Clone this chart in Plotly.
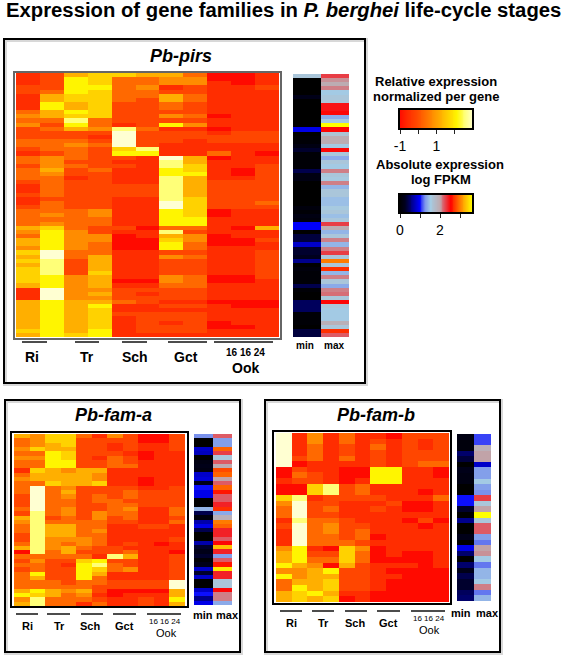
import numpy as np
import plotly.graph_objects as go

W, H = 565, 659

# Relative expression, as shade levels 0 (red, -1) to 9 (pale yellow, 3)
pirs_rows = [
[1,2,5,6,6,5,5,3,0,0,1],[1,2,7,6,3,3,4,4,0,0,1],[1,2,7,6,3,3,4,4,1,0,1],[2,2,7,7,3,4,1,2,1,1,2],
[2,3,7,6,3,3,2,2,1,1,1],[1,5,6,6,3,3,5,3,1,1,1],[1,5,6,6,3,2,5,3,1,1,1],[1,7,5,6,2,2,3,2,1,1,1],
[1,7,5,6,2,2,3,2,1,1,1],[3,5,7,6,2,2,2,2,1,1,1],[4,5,6,6,2,2,4,3,0,1,1],[3,3,8,3,2,2,2,2,1,1,1],
[4,2,7,3,1,2,7,4,1,1,1],[2,3,5,4,8,3,1,1,0,1,1],[2,2,2,2,9,2,2,2,1,2,2],[2,2,2,1,9,2,2,2,2,2,2],
[3,3,3,2,9,2,2,1,2,2,2],[3,3,4,3,9,2,1,1,1,1,1],[2,3,3,2,6,8,1,1,1,1,1],[1,2,3,2,7,7,1,1,3,1,0],
[3,4,3,2,2,1,9,5,0,1,1],[3,4,2,2,1,1,8,5,1,1,1],[2,4,3,2,2,1,8,6,1,1,2],[3,5,2,3,1,1,7,6,1,0,2],
[3,4,2,2,1,1,7,7,1,0,2],[3,3,1,2,1,1,8,5,1,1,2],[2,3,2,2,1,1,8,5,2,2,2],[1,3,2,2,2,2,8,5,2,2,2],
[1,3,2,2,2,2,8,5,2,2,2],[2,3,2,2,2,2,8,5,2,2,2],[1,2,2,2,1,1,8,6,2,2,2],[1,3,2,2,1,1,9,6,2,2,3],
[2,3,2,2,1,1,9,6,2,2,2],[3,3,3,4,1,1,7,6,0,1,1],[3,4,3,4,1,1,7,6,0,1,1],[3,3,3,3,1,1,7,7,1,1,1],
[3,4,3,3,1,1,7,7,1,1,1],[5,6,3,2,2,0,3,3,1,0,5],[4,7,4,2,1,1,8,2,1,1,1],[3,7,4,4,0,1,5,4,0,1,1],
[5,7,4,4,0,0,6,4,0,0,2],[5,7,4,3,0,0,7,3,0,0,1],[4,7,4,3,0,0,7,3,1,1,1],[6,9,3,3,1,1,2,2,1,1,2],
[5,9,3,5,1,1,4,3,1,1,2],[6,8,2,5,1,1,2,2,1,1,2],[5,8,2,5,1,1,2,2,1,1,2],[6,8,2,5,1,1,2,2,1,1,2],
[6,8,2,6,1,1,2,2,1,1,2],[6,7,4,5,1,1,4,3,0,0,2],[6,7,4,5,0,0,4,3,0,0,1],[5,7,4,5,1,1,3,3,1,1,1],
[1,9,4,4,2,2,2,2,1,1,1],[1,9,4,5,2,1,2,2,1,1,1],[1,9,4,4,2,2,2,2,1,1,1],[5,7,5,5,3,2,1,1,0,0,0],
[5,7,5,7,1,1,2,2,1,0,0],[5,7,5,6,1,1,1,1,1,1,1],[5,7,5,6,2,2,2,2,1,1,1],[5,7,5,6,1,2,2,2,1,1,1],
[5,7,5,6,1,2,1,2,0,1,1],[5,7,5,6,1,2,2,2,0,0,1],[6,7,5,7,1,2,2,2,1,1,1],[5,7,6,7,1,1,1,1,1,1,1],
]
pirs_min = [1.6,0,0,0,0,0.2,0,0,0,0,0,0,0,0.9,0,0.05,0.05,0.15,0.3,0.05,0.05,0.05,0.05,0.4,0.15,0.15,0,0,0,0,0,0,
            0.1,0.05,0.15,0.1,0.95,0.95,0,0.35,0.35,0.8,0.3,0.3,0.25,0.6,0,0.1,0.05,0.05,0.05,0.4,0.05,0,0,0.45,0.45,0.45,0.05,0.05,0.05,0,0.35,0.35]
pirs_max = [2.3,2.05,1.95,2.1,1.5,1.6,1.6,2.45,2.45,2.5,1.35,1.5,3.6,2.5,1.65,1.95,1.95,1.5,2.5,1.6,1.35,1.6,1.5,2.1,1.6,1.55,2.1,1.4,1.6,1.6,1.45,1.45,
            1.55,1.6,1.45,1.6,2.3,1.95,1.4,1.6,2.1,1.4,2.1,2.3,1.6,3.0,1.6,2.7,1.4,2.1,1.6,1.35,2.1,2.15,1.6,2.5,1.6,1.5,1.5,1.5,1.9,1.6,2.7,2.2]

fam_a_rows = [
[5,4,6,6,3,1,4,2,0,0,2],[3,4,6,6,2,2,2,2,0,0,2],[3,4,5,6,2,2,1,2,1,1,2],[4,6,5,5,2,2,1,2,1,1,2],
[3,3,7,6,2,2,2,1,0,1,1],[4,4,7,6,2,1,3,2,0,1,1],[3,3,7,7,2,2,3,2,1,1,1],[3,3,7,7,2,2,3,3,1,1,1],
[1,6,5,4,5,5,1,1,1,1,1],[3,5,5,5,5,4,1,1,1,1,1],[4,5,5,5,5,4,1,1,0,1,1],[3,3,6,5,5,6,1,1,0,1,1],
[3,9,3,4,2,2,2,2,1,1,2],[3,9,3,5,2,2,2,3,2,2,2],[2,9,3,4,2,3,2,3,2,2,2],[2,9,3,3,2,3,3,2,2,2,2],
[2,9,3,3,2,2,3,3,2,2,2],[3,9,3,4,2,2,3,4,1,1,3],[2,8,3,4,2,4,3,3,1,1,3],[5,8,2,3,2,4,2,3,1,1,2],
[4,8,3,3,3,3,2,2,1,1,3],[3,8,5,5,3,3,1,1,2,2,1],[3,8,5,5,3,4,1,1,1,1,1],[2,8,5,5,3,3,1,1,1,1,1],
[2,8,4,4,4,3,1,1,1,1,2],[3,8,4,3,4,3,1,2,1,0,1],[5,8,4,5,3,2,2,1,1,1,1],[0,8,3,5,2,2,2,3,1,1,0],
[3,3,3,3,3,1,8,5,1,1,2],[2,4,2,2,6,7,2,2,1,1,2],[3,3,2,1,7,8,3,2,1,1,2],[2,3,2,2,7,6,3,4,1,1,2],
[3,7,2,2,7,5,1,1,1,1,2],[3,5,2,2,7,3,1,1,1,1,2],[3,3,3,2,3,3,2,2,2,2,9],[3,3,3,3,3,2,2,2,2,2,9],
[5,7,5,4,5,2,0,0,0,0,5],[7,6,5,3,4,1,0,1,1,1,5],[4,8,3,3,3,2,1,1,2,1,7],[5,8,3,3,1,3,1,1,2,1,5],
]
fam_a_min = [1.25,0,0,0.8,0.75,0,0.15,0.2,0.15,0.8,0.85,0.2,1.0,0.9,0.9,0,0,1.4,0.4,0.1,0.7,0.9,0.4,0,0,0.7,0.3,0.2,0.3,0.05,0.2,0.8,0.3,0.8,0,0,0.8,1.0,0.6,0.9]
fam_a_max = [2.2,1.3,1.3,2.9,2.3,1.6,2.2,1.95,2.8,2.9,2.0,2.2,2.9,2.6,2.2,2.2,2.4,2.7,1.35,1.9,3.0,2.9,2.4,2.4,2.2,2.5,3.3,2.4,1.3,2.2,2.6,3.5,2.4,2.4,1.6,1.6,2.5,2.1,2.1,1.35]

fam_b_rows = [
[9,1,4,1,3,1,1,0,2,2,2],[9,1,4,1,3,1,2,1,2,1,2],[9,1,3,1,2,1,3,1,2,1,2],[9,1,3,1,2,1,2,1,2,2,2],
[9,2,3,1,3,1,2,1,2,2,2],[9,0,1,1,1,1,2,1,2,3,3],[0,2,1,1,0,0,7,7,1,1,0],[0,3,2,1,0,0,7,7,1,1,0],
[1,2,2,1,0,1,7,7,1,1,1],[0,0,6,8,2,3,1,1,1,1,1],[0,0,6,8,2,3,1,1,1,0,1],[6,8,1,2,2,2,2,1,1,1,3],
[4,9,2,2,1,1,1,2,0,0,1],[3,9,2,3,1,1,2,1,0,0,1],[3,9,2,2,1,1,1,1,1,1,1],[1,8,3,3,2,1,1,1,0,2,0],
[2,9,3,4,2,2,1,1,1,0,1],[1,9,3,4,2,3,1,1,1,1,1],[1,9,3,3,2,3,0,1,1,1,1],[1,9,3,3,3,2,1,1,1,1,1],
[4,7,1,0,6,4,0,1,1,1,1],[5,7,2,2,6,3,0,1,0,0,1],[5,7,3,3,6,3,0,0,0,0,1],[7,5,4,0,5,2,1,1,1,0,1],
[4,4,5,7,2,2,1,0,0,0,0],[7,4,5,5,2,2,1,1,0,0,0],[3,5,5,6,2,2,1,0,0,0,0],[3,7,5,6,2,2,1,0,0,0,0],
[5,6,7,5,1,1,0,0,0,0,0],[5,6,5,6,0,1,0,0,0,0,0],
]
fam_b_min = [0.15,0.1,0.1,0.5,0.35,0,0.2,0.15,0.15,0,0,1.0,1.0,0.3,0,0.6,0,0,0.2,0,0.9,0.5,0,0.5,0.2,0.4,0.3,0.3,0.45,0.5]
fam_b_max = [1.1,1.1,1.9,2.0,2.0,0.8,1.3,1.3,1.5,1.3,1.25,2.3,1.6,2.0,3.6,1.6,2.2,2.2,1.3,1.2,2.0,2.05,1.5,1.2,1.4,1.4,1.5,2.1,1.2,1.4]

samples = ["Ri1", "Ri2", "Tr1", "Tr2", "Sch1", "Sch2", "Gct1", "Gct2", "Ook16a", "Ook16b", "Ook24"]
stages = ["Ri", "Tr", "Sch", "Gct"]
ook_hours = "16 16 24"
rel_ticks, rel_labels = [-1, 0, 1, 2], ["-1", "", "1", ""]
abs_ticks, abs_labels = [0, 1, 2, 3], ["0", "", "2", ""]

rel_scale = [[0/9,"rgb(255,10,0)"],[1/9,"rgb(255,45,0)"],[2/9,"rgb(255,70,0)"],[3/9,"rgb(255,105,0)"],
             [4/9,"rgb(255,140,0)"],[5/9,"rgb(255,175,0)"],[6/9,"rgb(255,210,0)"],[7/9,"rgb(255,245,0)"],
             [8/9,"rgb(255,255,120)"],[1,"rgb(255,255,210)"]]
abs_scale = [[0,"rgb(0,0,0)"],[0.07,"rgb(0,0,30)"],[0.27,"rgb(0,0,255)"],[0.35,"rgb(125,150,235)"],[0.42,"rgb(165,205,228)"],
             [0.55,"rgb(190,170,175)"],[0.62,"rgb(225,80,90)"],[0.70,"rgb(255,0,0)"],[0.85,"rgb(255,140,0)"],[1,"rgb(255,255,0)"]]

fig = go.Figure()
ax_n = [0]
layout = {}
def fx(p): return p / W
def fy(p): return 1 - p / H

def add_hm(x, y, z, x0, x1, y0, y1, scale, zmin, zmax, xax=None):
    ax_n[0] += 1
    n = ax_n[0]
    s = "" if n == 1 else str(n)
    fig.add_trace(go.Heatmap(x=x, y=y, z=z, colorscale=scale, zmin=zmin, zmax=zmax, showscale=False,
                             xaxis="x" + s, yaxis="y" + s, hoverinfo="skip"))
    xa = dict(domain=[fx(x0), fx(x1)], anchor="y" + s, showgrid=False, zeroline=False, showticklabels=False, ticks="")
    if xax: xa.update(xax)
    layout["xaxis" + s] = xa
    layout["yaxis" + s] = dict(domain=[fy(y1), fy(y0)], anchor="x" + s, showgrid=False, zeroline=False,
                               showticklabels=False, ticks="", autorange="reversed", type="linear")

shapes, annos = [], []
def rect(x0, y0, x1, y1, color="black", width=2):
    shapes.append(dict(type="rect", xref="paper", yref="paper", x0=fx(x0), x1=fx(x1), y0=fy(y0), y1=fy(y1),
                       line=dict(color=color, width=width), layer="above"))
def hline(x0, x1, y):
    shapes.append(dict(type="line", xref="paper", yref="paper", x0=fx(x0), x1=fx(x1), y0=fy(y), y1=fy(y),
                       line=dict(color="#111", width=1.5)))
def text(x, y, t, size, bold=True, italic=False, xanchor="center"):
    if bold: t = "<b>%s</b>" % t
    if italic: t = "<i>%s</i>" % t
    annos.append(dict(xref="paper", yref="paper", x=fx(x), y=fy(y), text=t, showarrow=False, xanchor=xanchor, yanchor="middle",
                      font=dict(family="Liberation Sans", size=size, color="black")))

def panel(name, rows, mins, maxs, box, inner, inner_col, hm, side, lines, line_y, label_xy, ook_xy, ook_y, minmax_xy, title_xy, fs, fsm):
    rect(box[0]+1, box[1]+1, box[2]+1, box[3]+1, "#d8d8d8", 4)
    rect(box[0], box[1], box[2], box[3], "black", 2)
    idx = list(range(len(rows)))
    z = [[-1 + 4 * v / 9 for v in r] for r in rows]
    add_hm(samples, idx, z, hm[0], hm[1], hm[2], hm[3], rel_scale, -1, 3)
    rect(inner[0], inner[1], inner[2], inner[3], inner_col, 2)
    add_hm(["min", "max"], list(range(len(mins))), [[a, b] for a, b in zip(mins, maxs)], side[0], side[1], side[2], side[3], abs_scale, 0, 3.6)
    for a, b in lines: hline(a, b, line_y)
    for st, (x, y) in zip(stages, label_xy): text(x, y, st, fs)
    text(ook_xy[0], ook_xy[1], ook_hours, fsm, bold=fs > 12)
    text(ook_y[0], ook_y[1], "Ook", fs, bold=fs > 12)
    text(minmax_xy[0][0], minmax_xy[0][1], "min", minmax_xy[2])
    text(minmax_xy[1][0], minmax_xy[1][1], "max", minmax_xy[2])
    text(title_xy[0], title_xy[1], name, title_xy[2], italic=True)

panel("Pb-pirs", pirs_rows, pirs_min, pirs_max, (4, 39, 365, 383), (14, 72, 281, 339), "#666", (16, 279, 73, 337),
      (293, 349, 74, 337), [(22,47),(75,99),(122,147),(168,207),(214,273)], 342,
      [(32,357),(87,357),(135,357),(186,357)], (245,352), (245,368), ((305,345),(334,345),10), (181,56,18), 14, 10)
panel("Pb-fam-a", fam_a_rows, fam_a_min, fam_a_max, (5, 400, 240, 652), (11, 432, 188, 607), "black", (14, 185, 434, 606),
      (194, 232, 434, 605), [(16,38),(47,70),(81,103),(113,136),(147,181)], 614,
      [(27,626),(59,626),(90,626),(124,626)], (165,621), (166,633), ((203,615),(227,615),11), (113,415,18), 11, 8)
panel("Pb-fam-b", fam_b_rows, fam_b_min, fam_b_max, (265, 400, 500, 652), (273, 431, 451, 604), "black", (276, 449, 433, 602),
      (457, 491, 434, 601), [(280,302),(312,334),(345,367),(377,400),(411,445)], 611,
      [(291,623),(323,623),(355,623),(388,623)], (429,618), (429,630), ((461,613),(487,613),11), (376,415,18), 11, 8)

# legends
rel_grid = np.linspace(-1, 3, 81)
add_hm(rel_grid, [0], [rel_grid], 400, 473, 110, 129, rel_scale, -1, 3,
       dict(range=[-1, 3], tickmode="array", tickvals=rel_ticks, ticktext=rel_labels, ticks="outside", ticklen=4, tickcolor="#222",
            showticklabels=True, tickfont=dict(family="Liberation Sans", size=14, color="black"), side="bottom"))
rect(399, 109, 473, 129, "black", 2)
abs_grid = np.linspace(0, 3.65, 81)
add_hm(abs_grid, [0], [abs_grid], 400, 473, 195, 213, abs_scale, 0, 3.6,
       dict(range=[0, 3.65], tickmode="array", tickvals=abs_ticks, ticktext=abs_labels, ticks="outside", ticklen=4, tickcolor="#222",
            showticklabels=True, tickfont=dict(family="Liberation Sans", size=14, color="black"), side="bottom"))
rect(399, 194, 473, 213, "black", 2)
text(436, 82, "Relative expression", 13)
text(436, 96, "normalized per gene", 13)
text(440, 165, "Absolute expression", 13)
text(441, 180, "log FPKM", 13)
text(283.5, 10.5, "Expression of gene families in <i>P. berghei</i> life-cycle stages", 20.3)

fig.update_layout(width=W, height=H, margin=dict(l=0, r=0, t=0, b=0, autoexpand=False), paper_bgcolor="white", plot_bgcolor="white",
                  shapes=shapes, annotations=annos, showlegend=False, **layout)
fig.write_html("out.html", config={"displayModeBar": False}, post_script="document.body.style.margin='0';")
